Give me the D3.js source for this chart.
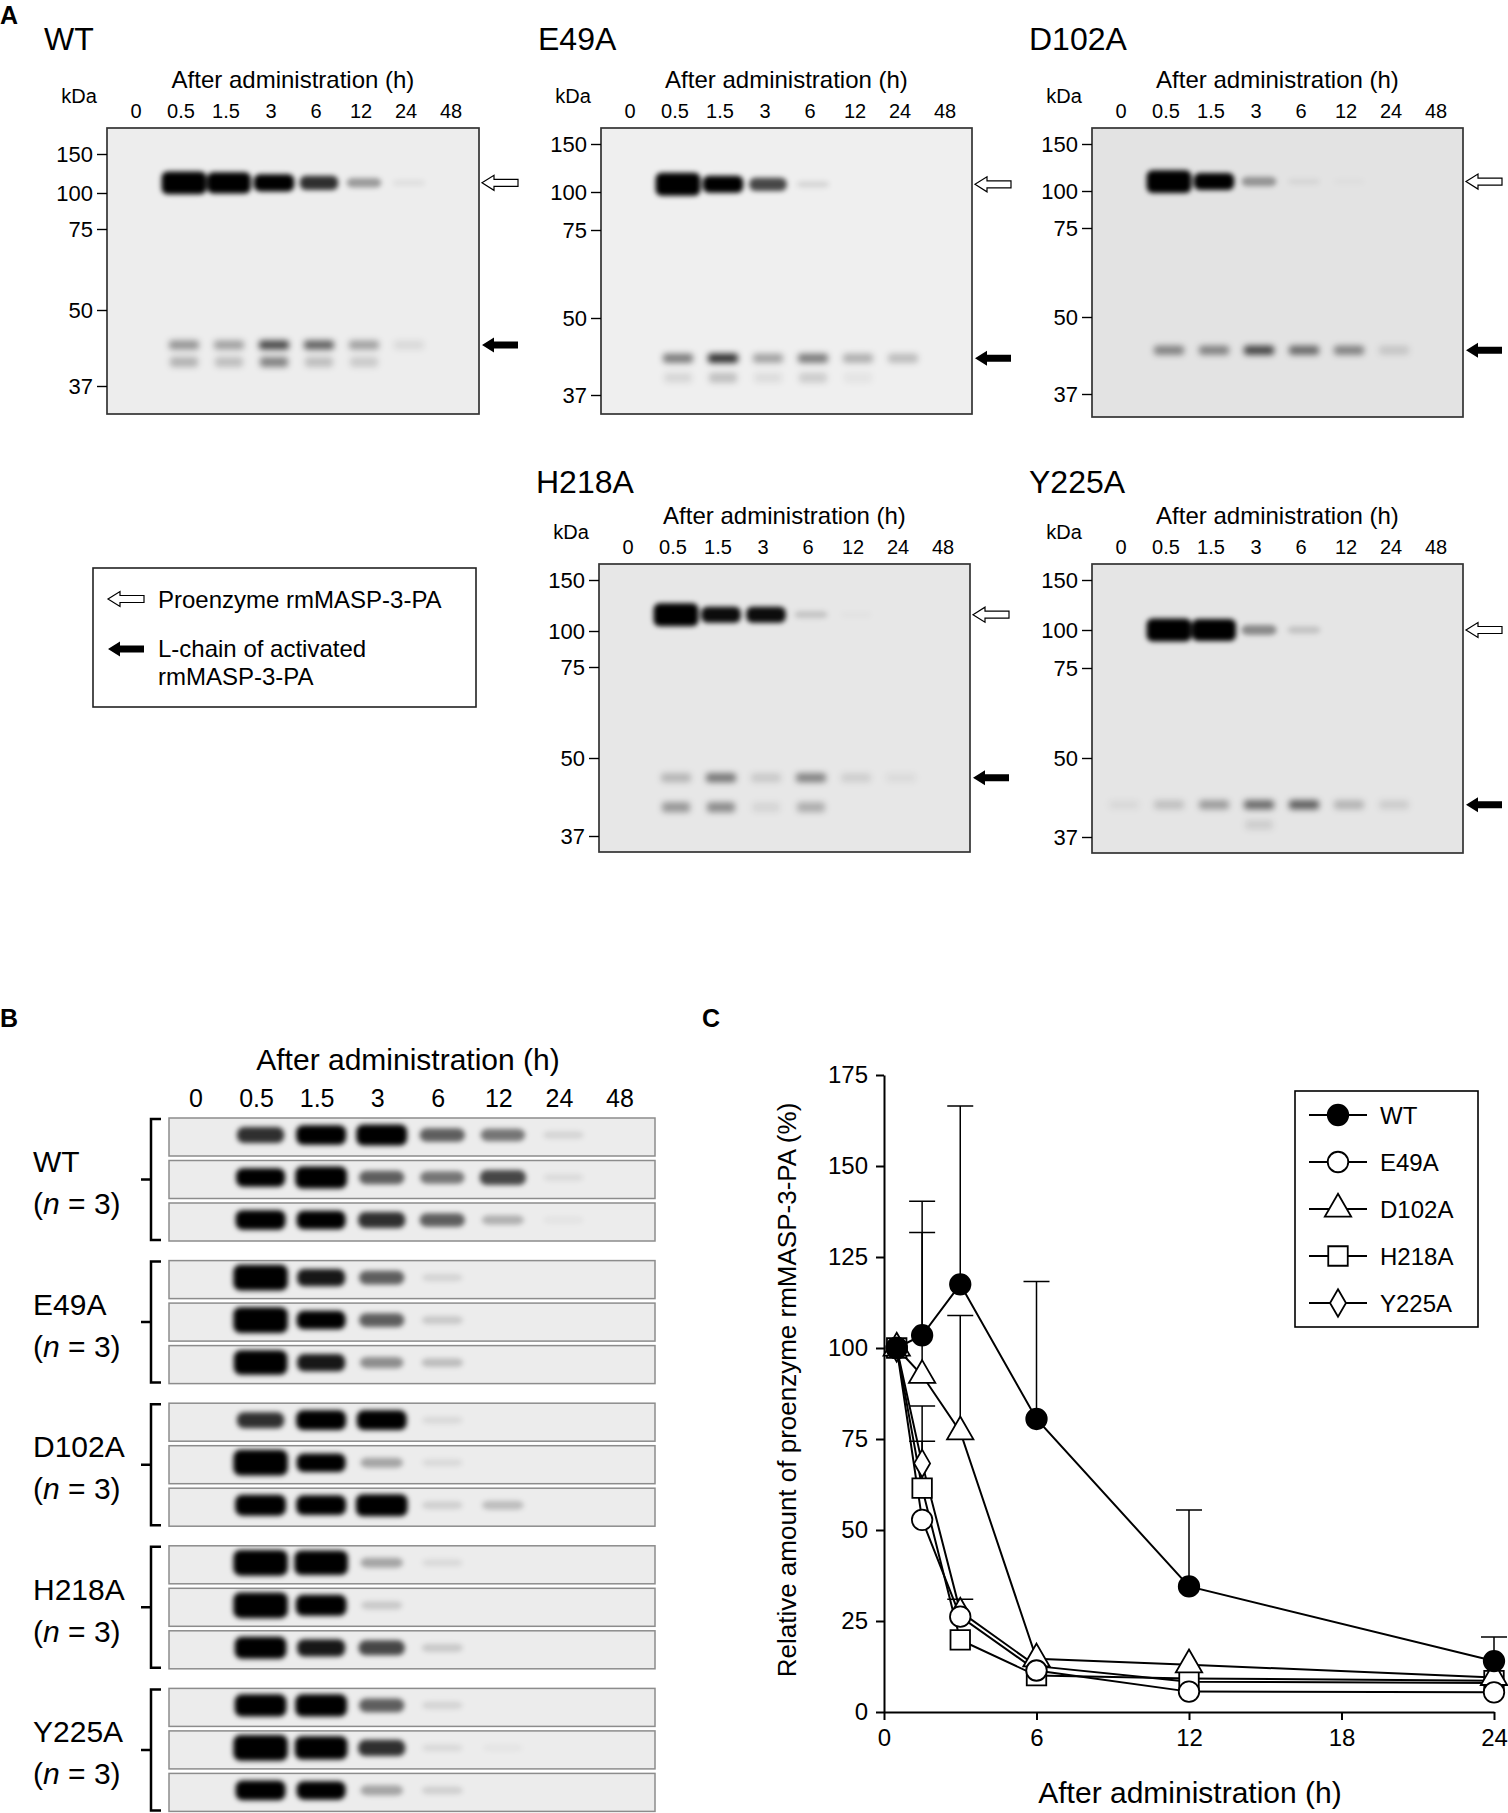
<!DOCTYPE html>
<html>
<head>
<meta charset="utf-8">
<script src="https://cdn.jsdelivr.net/npm/d3@7"></script>
<style>
  body { margin: 0; background: #fff; }
  svg { display: block; font-family: 'Liberation Sans', Arial, sans-serif; }
</style>
</head>
<body>
<div id="wrapper"></div>
<script>
'use strict';

//#region DATA
const lanes = ['0', '0.5', '1.5', '3', '6', '12', '24', '48'];
const markers = [150, 100, 75, 50, 37];

// panel A: band intensity per lane (0 = none, >1 = saturated)
const wtHeavy = [0, 1.6, 1.45, 1.05, 0.8, 0.35, 0.06, 0];
const wtLight = [0, 0.35, 0.3, 0.65, 0.55, 0.3, 0.08, 0];
const wtLightLow = [0, 0.25, 0.2, 0.45, 0.2, 0.15, 0, 0];
const e49aHeavy = [0, 1.6, 1.05, 0.7, 0.1, 0, 0, 0];
const e49aLight = [0, 0.45, 0.75, 0.3, 0.45, 0.25, 0.2, 0];
const e49aLightLow = [0, 0.1, 0.2, 0.08, 0.15, 0.05, 0, 0];
const d102aHeavy = [0, 1.6, 1.05, 0.35, 0.06, 0.02, 0, 0];
const d102aLight = [0, 0.4, 0.4, 0.65, 0.5, 0.4, 0.12, 0];
const d102aLightLow = [0, 0, 0, 0, 0, 0, 0, 0];
const h218aHeavy = [0, 1.6, 0.95, 0.95, 0.15, 0.02, 0, 0];
const h218aLight = [0, 0.2, 0.45, 0.12, 0.4, 0.1, 0.05, 0];
const h218aLightLow = [0, 0.35, 0.4, 0.08, 0.25, 0, 0, 0];
const y225aHeavy = [0, 1.6, 1.5, 0.4, 0.15, 0, 0, 0];
const y225aLight = [0.05, 0.15, 0.3, 0.5, 0.55, 0.2, 0.1, 0];
const y225aLightLow = [0, 0, 0, 0.1, 0, 0, 0, 0];

// apparent size (kDa) of the two products on each blot
const heavyKDa = {WT: 113, E49A: 108, D102A: 110, H218A: 116, Y225A: 100};
const lightKDa = {WT: 44, E49A: 43.2, D102A: 44.4, H218A: 46.7, Y225A: 42.3};
const lightLowKDa = {WT: 41.1, E49A: 39.9, D102A: 40, H218A: 41.8, Y225A: 39};

// panel B: three animals per protein
const groupsB = ['WT', 'E49A', 'D102A', 'H218A', 'Y225A'];
const stripsWT = [
  [0, 0.8, 1.1, 1.2, 0.6, 0.5, 0.1, 0],
  [0, 1.0, 1.3, 0.6, 0.5, 0.7, 0.07, 0],
  [0, 1.1, 1.0, 0.8, 0.6, 0.25, 0.04, 0]
];
const stripsE49A = [
  [0, 1.6, 0.9, 0.6, 0.1, 0, 0, 0],
  [0, 1.6, 1.0, 0.6, 0.15, 0, 0, 0],
  [0, 1.5, 0.9, 0.4, 0.2, 0, 0, 0]
];
const stripsD102A = [
  [0, 0.8, 1.1, 1.1, 0.08, 0, 0, 0],
  [0, 1.6, 1.0, 0.3, 0.08, 0, 0, 0],
  [0, 1.2, 1.1, 1.3, 0.12, 0.2, 0, 0]
];
const stripsH218A = [
  [0, 1.6, 1.5, 0.3, 0.08, 0, 0, 0],
  [0, 1.6, 1.2, 0.15, 0, 0, 0, 0],
  [0, 1.3, 0.9, 0.7, 0.15, 0, 0, 0]
];
const stripsY225A = [
  [0, 1.3, 1.3, 0.6, 0.1, 0, 0, 0],
  [0, 1.6, 1.4, 0.8, 0.08, 0.03, 0, 0],
  [0, 1.1, 1.0, 0.3, 0.12, 0, 0, 0]
];

// panel C: relative amount of proenzyme (%)
const timesC = [0.5, 1.5, 3, 6, 12, 24];
const wtMean = [100, 103.5, 117.5, 80.5, 34.5, 14];
const wtUpper = [null, 140.3, 166.5, 118.3, 55.5, 20.6];
const e49aMean = [100, 52.8, 26.2, 11.4, 5.6, 5.4];
const e49aUpper = [null, null, null, null, null, null];
const d102aMean = [100, 92.5, 77, 14.6, 13, 9.5];
const d102aUpper = [null, 131.7, 108.9, null, null, null];
const h218aMean = [100, 61.5, 19.8, 10, 9.2, 8.6];
const h218aUpper = [null, 74.4, null, null, null, null];
const y225aMean = [100, 68.3, 27.6, 12.6, 8.3, 8];
const y225aUpper = [null, 84.1, 31, null, null, null];
const yTicksC = [0, 25, 50, 75, 100, 125, 150, 175];
const xTicksC = [0, 6, 12, 18, 24];
//#endregion DATA

function drawFigure () {

  //#region CANVAS
  const svg = d3.select('#wrapper')
    .append('svg')
    .attr('width', 1508)
    .attr('height', 1813);

  const defs = svg.append('defs');
  defs.append('filter').attr('id', 'blur')
    .attr('x', '-50%').attr('y', '-50%').attr('width', '200%').attr('height', '200%')
    .append('feGaussianBlur').attr('stdDeviation', 2.8);
  defs.append('filter').attr('id', 'blurSoft')
    .attr('x', '-50%').attr('y', '-100%').attr('width', '200%').attr('height', '300%')
    .append('feGaussianBlur').attr('stdDeviation', 3.2);

  function arrowPath (x, y) {
    return `M${x},${y} L${x + 12},${y - 7.5} L${x + 12},${y - 3.5} L${x + 36},${y - 3.5}` +
      ` L${x + 36},${y + 3.5} L${x + 12},${y + 3.5} L${x + 12},${y + 7.5} Z`;
  }

  svg.append('text').attr('x', 0).attr('y', 24)
    .attr('font-size', 25).attr('font-weight', 'bold').text('A');
  svg.append('text').attr('x', 0).attr('y', 1027)
    .attr('font-size', 25).attr('font-weight', 'bold').text('B');
  svg.append('text').attr('x', 702).attr('y', 1027)
    .attr('font-size', 25).attr('font-weight', 'bold').text('C');
  //#endregion CANVAS

  //#region PANEL A BLOTS
  const blots = [
    {name: 'WT', x: 107, y: 128, w: 372, h: 286, titleY: 50, bg: '#ededed',
      markerY: [154, 193, 229, 310, 386], heavy: wtHeavy, light: wtLight, lightLow: wtLightLow},
    {name: 'E49A', x: 601, y: 128, w: 371, h: 286, titleY: 50, bg: '#efefef',
      markerY: [144, 192, 230, 318, 395], heavy: e49aHeavy, light: e49aLight, lightLow: e49aLightLow},
    {name: 'D102A', x: 1092, y: 128, w: 371, h: 289, titleY: 50, bg: '#e3e3e3',
      markerY: [144, 191, 228, 317, 394], heavy: d102aHeavy, light: d102aLight, lightLow: d102aLightLow},
    {name: 'H218A', x: 599, y: 564, w: 371, h: 288, titleY: 493, bg: '#e7e7e7',
      markerY: [580, 631, 667, 758, 836], heavy: h218aHeavy, light: h218aLight, lightLow: h218aLightLow},
    {name: 'Y225A', x: 1092, y: 564, w: 371, h: 289, titleY: 493, bg: '#e5e5e5',
      markerY: [580, 630, 668, 758, 837], heavy: y225aHeavy, light: y225aLight, lightLow: y225aLightLow}
  ];

  blots.forEach((b, i) => {
    const g = svg.append('g');
    const xLane = d3.scalePoint().domain(lanes).range([b.x + 29, b.x + 344]);
    const yKDa = d3.scaleLinear().domain(markers).range(b.markerY);

    defs.append('clipPath').attr('id', `clipA${i}`)
      .append('rect').attr('x', b.x).attr('y', b.y).attr('width', b.w).attr('height', b.h);

    g.append('rect')
      .attr('x', b.x).attr('y', b.y).attr('width', b.w).attr('height', b.h)
      .attr('fill', b.bg);

    const clipped = g.append('g').attr('clip-path', `url(#clipA${i})`);
    const bands = clipped.append('g').attr('filter', 'url(#blur)');
    const smears = clipped.append('g').attr('filter', 'url(#blurSoft)');

    const heavyY = yKDa(heavyKDa[b.name]);
    bands.selectAll('.heavy').data(b.heavy).join('rect')
      .attr('class', 'heavy')
      .attr('x', (d, j) => xLane(lanes[j]) + 3 - (32 + 8 * d) / 2)
      .attr('y', d => heavyY - 16.5 * (0.35 + 0.65 * d) / 2)
      .attr('width', d => 32 + 8 * d)
      .attr('height', d => 16.5 * (0.35 + 0.65 * d))
      .attr('rx', 6)
      .attr('fill', '#000')
      .attr('fill-opacity', d => Math.min(1, d));

    const lightY = yKDa(lightKDa[b.name]);
    smears.selectAll('.light').data(b.light).join('rect')
      .attr('class', 'light')
      .attr('x', (d, j) => xLane(lanes[j]) + 3 - 15)
      .attr('y', lightY - 4.5)
      .attr('width', 30)
      .attr('height', 9)
      .attr('rx', 3)
      .attr('fill', '#000')
      .attr('fill-opacity', d => Math.min(1, d * 1.1));

    const lowY = yKDa(lightLowKDa[b.name]);
    smears.selectAll('.low').data(b.lightLow).join('rect')
      .attr('class', 'low')
      .attr('x', (d, j) => xLane(lanes[j]) + 3 - 14)
      .attr('y', lowY - 5)
      .attr('width', 28)
      .attr('height', 10)
      .attr('rx', 3)
      .attr('fill', '#000')
      .attr('fill-opacity', d => Math.min(1, d));

    g.append('rect')
      .attr('x', b.x).attr('y', b.y).attr('width', b.w).attr('height', b.h)
      .attr('fill', 'none').attr('stroke', '#333').attr('stroke-width', 1.7);

    // kDa marker axis
    const axis = g.append('g')
      .attr('transform', `translate(${b.x},0)`)
      .call(d3.axisLeft(yKDa).tickValues(markers).tickSize(10).tickPadding(4).tickSizeOuter(0));
    axis.select('.domain').remove();
    axis.selectAll('line').attr('stroke', '#000').attr('stroke-width', 1.4);
    axis.selectAll('text').attr('font-size', 22).attr('font-family', null).attr('fill', '#000');
    axis.attr('font-size', null).attr('font-family', null);

    g.append('text').attr('x', b.x - 63).attr('y', b.titleY)
      .attr('font-size', 32).text(b.name);
    g.append('text').attr('x', b.x + b.w / 2).attr('y', b.y - 40)
      .attr('text-anchor', 'middle').attr('font-size', 24).text('After administration (h)');
    g.append('text').attr('x', b.x - 28).attr('y', b.y - 25)
      .attr('text-anchor', 'middle').attr('font-size', 20).text('kDa');
    g.selectAll('.lane').data(lanes).join('text')
      .attr('class', 'lane')
      .attr('x', d => xLane(d))
      .attr('y', b.y - 10)
      .attr('text-anchor', 'middle')
      .attr('font-size', 20)
      .text(d => d);

    g.append('path').attr('d', arrowPath(b.x + b.w + 3, heavyY))
      .attr('fill', '#fff').attr('stroke', '#000').attr('stroke-width', 1.2);
    g.append('path').attr('d', arrowPath(b.x + b.w + 3, lightY))
      .attr('fill', '#000');
  });

  // legend for the arrows
  const legA = svg.append('g');
  legA.append('rect').attr('x', 93).attr('y', 568).attr('width', 383).attr('height', 139)
    .attr('fill', '#fff').attr('stroke', '#222').attr('stroke-width', 1.6);
  legA.append('path').attr('d', arrowPath(108, 599))
    .attr('fill', '#fff').attr('stroke', '#000').attr('stroke-width', 1.2);
  legA.append('path').attr('d', arrowPath(108, 649)).attr('fill', '#000');
  legA.append('text').attr('x', 158).attr('y', 608).attr('font-size', 24).text('Proenzyme rmMASP-3-PA');
  legA.append('text').attr('x', 158).attr('y', 657).attr('font-size', 24).text('L-chain of activated');
  legA.append('text').attr('x', 158).attr('y', 685).attr('font-size', 24).text('rmMASP-3-PA');
  //#endregion PANEL A BLOTS

  //#region PANEL B STRIPS
  const stripData = [stripsWT, stripsE49A, stripsD102A, stripsH218A, stripsY225A];
  const xLaneB = d3.scalePoint().domain(lanes).range([196, 620]);
  const groupY = d3.scaleLinear().domain([0, 1]).range([1118, 1260.6]);
  const stripX = 169, stripW = 486, stripH = 38, stripStep = 42.5;

  svg.append('text').attr('x', 408).attr('y', 1070)
    .attr('text-anchor', 'middle').attr('font-size', 30).text('After administration (h)');
  svg.selectAll('.laneB').data(lanes).join('text')
    .attr('class', 'laneB')
    .attr('x', d => xLaneB(d))
    .attr('y', 1107)
    .attr('text-anchor', 'middle')
    .attr('font-size', 25)
    .text(d => d);

  groupsB.forEach((name, gi) => {
    const top = groupY(gi);
    const g = svg.append('g');

    stripData[gi].forEach((row, si) => {
      const sy = top + si * stripStep;
      defs.append('clipPath').attr('id', `clipB${gi}_${si}`)
        .append('rect').attr('x', stripX).attr('y', sy).attr('width', stripW).attr('height', stripH);
      g.append('rect')
        .attr('x', stripX).attr('y', sy).attr('width', stripW).attr('height', stripH)
        .attr('fill', '#ececec');
      g.append('g').attr('clip-path', `url(#clipB${gi}_${si})`)
        .append('g').attr('filter', 'url(#blur)')
        .selectAll('rect').data(row).join('rect')
        .attr('x', (d, j) => xLaneB(lanes[j]) + 4 - (40 + 9 * d) / 2)
        .attr('y', d => sy + 17 - 18.5 * (0.35 + 0.65 * d) / 2)
        .attr('width', d => 40 + 9 * d)
        .attr('height', d => 18.5 * (0.35 + 0.65 * d))
        .attr('rx', 7)
        .attr('fill', '#000')
        .attr('fill-opacity', d => Math.min(1, d));
      g.append('rect')
        .attr('x', stripX).attr('y', sy).attr('width', stripW).attr('height', stripH)
        .attr('fill', 'none').attr('stroke', '#8c8c8c').attr('stroke-width', 1.5);
    });

    // bracket
    const bot = top + 2 * stripStep + stripH;
    g.append('path')
      .attr('d', `M161,${top + 1} H151 V${bot - 1} H161 M151,${(top + bot) / 2} H141`)
      .attr('fill', 'none').attr('stroke', '#000').attr('stroke-width', 2.5);

    g.append('text').attr('x', 33).attr('y', top + 54).attr('font-size', 30).text(name);
    const nText = g.append('text').attr('x', 33).attr('y', top + 96).attr('font-size', 30);
    nText.append('tspan').text('(');
    nText.append('tspan').attr('font-style', 'italic').text('n');
    nText.append('tspan').text(' = 3)');
  });
  //#endregion PANEL B STRIPS

  //#region PANEL C CHART
  const xC = d3.scaleLinear().domain([0, 24]).range([884, 1494]);
  const yC = d3.scaleLinear().domain([0, 175]).range([1712, 1075]);

  const seriesC = [
    {name: 'WT', mean: wtMean, upper: wtUpper, symbol: d3.symbolCircle, size: 330, fill: '#000'},
    {name: 'E49A', mean: e49aMean, upper: e49aUpper, symbol: d3.symbolCircle, size: 330, fill: '#fff'},
    {name: 'D102A', mean: d102aMean, upper: d102aUpper, symbol: d3.symbolTriangle, size: 300, fill: '#fff'},
    {name: 'H218A', mean: h218aMean, upper: h218aUpper, symbol: d3.symbolSquare, size: 380, fill: '#fff'},
    {name: 'Y225A', mean: y225aMean, upper: y225aUpper, symbol: d3.symbolDiamond, size: 220, fill: '#fff'}
  ];

  const plotC = svg.append('g');

  const xAxisC = plotC.append('g')
    .attr('transform', `translate(0,${yC(0)})`)
    .call(d3.axisBottom(xC).tickValues(xTicksC).tickSize(8).tickPadding(9).tickSizeOuter(0));
  const yAxisC = plotC.append('g')
    .attr('transform', `translate(${xC(0)},0)`)
    .call(d3.axisLeft(yC).tickValues(yTicksC).tickSize(8).tickPadding(8).tickSizeOuter(0));
  [xAxisC, yAxisC].forEach(ax => {
    ax.attr('font-size', null).attr('font-family', null);
    ax.selectAll('path, line').attr('stroke', '#000').attr('stroke-width', 2);
    ax.selectAll('text').attr('font-size', 24).attr('fill', '#000');
  });

  plotC.append('text')
    .attr('transform', `translate(796,1390) rotate(-90)`)
    .attr('text-anchor', 'middle').attr('font-size', 26)
    .text('Relative amount of proenzyme rmMASP-3-PA (%)');
  plotC.append('text').attr('x', 1190).attr('y', 1803)
    .attr('text-anchor', 'middle').attr('font-size', 30).text('After administration (h)');

  const line = d3.line().x(d => xC(d[0])).y(d => yC(d[1]));
  seriesC.forEach(s => {
    plotC.append('path')
      .attr('d', line(timesC.map((t, j) => [t, s.mean[j]])))
      .attr('fill', 'none').attr('stroke', '#000').attr('stroke-width', 2);
  });

  seriesC.forEach(s => {
    timesC.forEach((t, j) => {
      if (s.upper[j] == null) return;
      plotC.append('path')
        .attr('d', `M${xC(t)},${yC(s.mean[j])} V${yC(s.upper[j])} M${xC(t) - 13},${yC(s.upper[j])} H${xC(t) + 13}`)
        .attr('fill', 'none').attr('stroke', '#000').attr('stroke-width', 1.5);
    });
  });

  seriesC.slice().reverse().forEach(s => {
    plotC.selectAll(null).data(timesC.map((t, j) => [t, s.mean[j]])).join('path')
      .attr('transform', d => `translate(${xC(d[0])},${yC(d[1])})`)
      .attr('d', d3.symbol().type(s.symbol).size(s.size)())
      .attr('fill', s.fill).attr('stroke', '#000').attr('stroke-width', 1.8);
  });

  // legend
  const legC = plotC.append('g');
  legC.append('rect').attr('x', 1295).attr('y', 1091).attr('width', 183).attr('height', 236)
    .attr('fill', '#fff').attr('stroke', '#000').attr('stroke-width', 1.6);
  const legY = d3.scalePoint().domain(seriesC.map(s => s.name)).range([1115, 1303]);
  seriesC.forEach(s => {
    const yy = legY(s.name);
    legC.append('line').attr('x1', 1309).attr('x2', 1367).attr('y1', yy).attr('y2', yy)
      .attr('stroke', '#000').attr('stroke-width', 1.8);
    legC.append('path')
      .attr('transform', `translate(1338,${yy})`)
      .attr('d', d3.symbol().type(s.symbol).size(s.size)())
      .attr('fill', s.fill).attr('stroke', '#000').attr('stroke-width', 1.8);
    legC.append('text').attr('x', 1380).attr('y', yy + 8.5)
      .attr('font-size', 24).text(s.name);
  });
  //#endregion PANEL C CHART
}

drawFigure();
</script>
</body>
</html>
